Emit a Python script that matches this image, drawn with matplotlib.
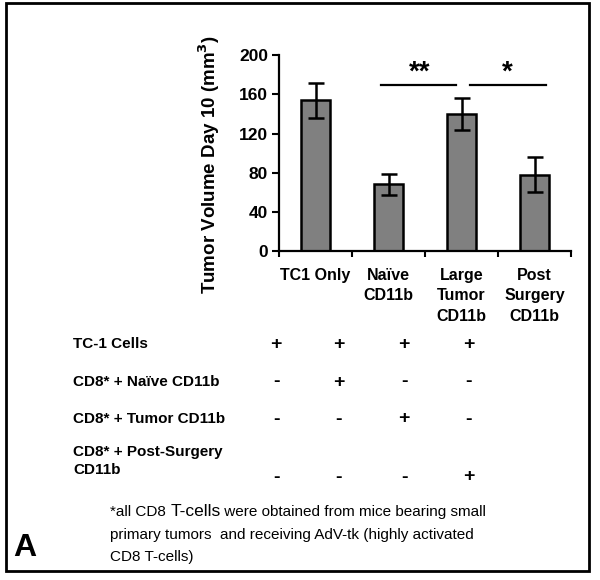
import matplotlib
matplotlib.use('Agg')
import matplotlib.pyplot as plt
from matplotlib.patches import Rectangle

plt.rcParams['font.family'] = ['Liberation Sans', 'DejaVu Sans']

# data
groups = ['TC1 Only', 'Naïve\nCD11b', 'Large\nTumor\nCD11b', 'Post\nSurgery\nCD11b']
volume = [154, 68, 140, 78]
volume_err = [18, 11, 16, 18]
yticks = [0, 40, 80, 120, 160, 200]

row_labels = ['TC-1 Cells', 'CD8* + Naïve CD11b', 'CD8* + Tumor CD11b', 'CD8* + Post-Surgery\nCD11b']
row_signs = [['+', '+', '+', '+'],
             ['-', '+', '-', '-'],
             ['-', '-', '+', '-'],
             ['-', '-', '-', '+']]

fig = plt.figure(figsize=(6, 5.8), dpi=100)
ax = fig.add_axes([0.465, 0.567, 0.487, 0.338])

x = range(len(groups))
ax.bar(x, volume, width=0.4, color='#808080', edgecolor='black', linewidth=1.8,
       yerr=volume_err, error_kw=dict(ecolor='black', elinewidth=1.8, capsize=5.5, capthick=1.8))
ax.set_xlim(-0.5, 3.5)
ax.set_ylim(0, 200)
ax.set_yticks(yticks)
ax.set_xticks(list(x))
ax.set_xticklabels(groups, fontsize=11.5, fontweight='bold', va='top', linespacing=1.45)
ax.set_xticks([-0.5, 0.5, 1.5, 2.5, 3.5], minor=True)
ax.tick_params(axis='x', which='major', length=0, pad=12)
ax.tick_params(axis='x', which='minor', length=4, width=1.5, direction='out')
ax.tick_params(axis='y', length=5, width=1.5, direction='out', labelsize=12.5, pad=3)
for lab in ax.get_yticklabels():
    lab.set_fontweight('bold')
ax.spines['top'].set_visible(False)
ax.spines['right'].set_visible(False)
ax.spines['left'].set_linewidth(1.6)
ax.spines['bottom'].set_linewidth(1.6)
ax.set_ylabel('Tumor Volume Day 10 (mm$^\\mathbf{3}$)', fontsize=13.5, fontweight='bold')
ax.yaxis.set_label_coords(-0.195, 0.44)

# significance bars
ax.plot([0.9, 1.92], [170, 170], color='black', lw=1.6, clip_on=False)
ax.text(1.42, 169, '**', ha='center', va='bottom', fontsize=20, fontweight='bold')
ax.plot([2.12, 3.15], [170, 170], color='black', lw=1.6, clip_on=False)
ax.text(2.62, 169, '*', ha='center', va='bottom', fontsize=20, fontweight='bold')

# treatment table
col_x = [276, 339, 404, 469]
row_y = [344, 382, 419, 477]
for label, signs, ry in zip(row_labels, row_signs, row_y):
    fig.text(73 / 600, 1 - ry / 580, label, ha='left', va='bottom' if '\n' in label else 'center',
             fontsize=11, fontweight='bold', linespacing=1.4)
    for s, cx in zip(signs, col_x):
        fig.text(cx / 600, 1 - ry / 580, s, ha='center', va='center', fontsize=14, fontweight='bold')

# footnote
fig.canvas.draw()
r = fig.canvas.get_renderer()
t1 = fig.text(110 / 600, 1 - 512 / 580, '*all CD8 ', ha='left', va='center', fontsize=11)
w1 = t1.get_window_extent(r).x1
t2 = fig.text(w1 / 600, 1 - 512 / 580, 'T-cells', ha='left', va='center', fontsize=12.5)
w2 = t2.get_window_extent(r).x1
fig.text(w2 / 600, 1 - 512 / 580, ' were obtained from mice bearing small', ha='left', va='center', fontsize=11)
fig.text(110 / 600, 1 - 535 / 580, 'primary tumors  and receiving AdV-tk (highly activated',
         ha='left', va='center', fontsize=11)
fig.text(110 / 600, 1 - 557 / 580, 'CD8 T-cells)', ha='left', va='center', fontsize=11)

fig.text(25 / 600, 1 - 548 / 580, 'A', ha='center', va='center', fontsize=23, fontweight='bold')

# outer frame
fig.patches.append(Rectangle((6 / 600, 9 / 580), 583 / 600, 568 / 580, transform=fig.transFigure,
                             fill=False, edgecolor='black', linewidth=2))

fig.savefig('out.png', dpi=100)
